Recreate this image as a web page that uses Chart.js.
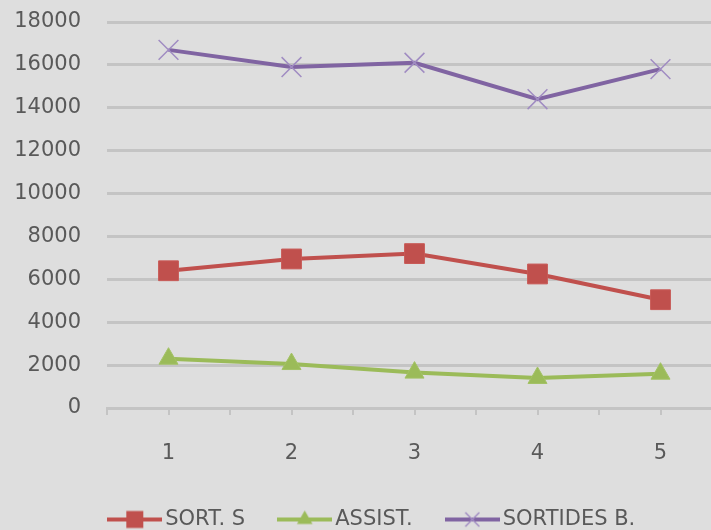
<!DOCTYPE html>
<html><head><meta charset="utf-8">
<script src="https://cdn.jsdelivr.net/npm/chart.js@4/dist/chart.umd.min.js"></script>
<style>html,body{margin:0;padding:0;overflow:hidden;background:#dedede;width:711px;height:530px}canvas{display:block}</style>
</head><body>
<canvas id="c" width="750" height="540"></canvas>
<script>
const categories = [1, 2, 3, 4, 5];
const seriesNames = ['SORT. S', 'ASSIST.', 'SORTIDES B.'];
const sortS = [6400, 6950, 7200, 6250, 5050];
const assist = [2300, 2050, 1650, 1400, 1600];
const sortidesB = [16700, 15900, 16100, 14400, 15800];
const yTicks = [0, 2000, 4000, 6000, 8000, 10000, 12000, 14000, 16000, 18000];

const FONT = {family: 'DejaVu Sans', size: 21};
const TXT = '#595959';
const GRID = '#c4c4c4';

function pts(vals) { return categories.map((c, i) => ({x: c, y: vals[i]})); }

function icon(color, style, mcolor) {
  const c = document.createElement('canvas');
  c.width = 55; c.height = 22;
  const g = c.getContext('2d');
  g.strokeStyle = color; g.lineWidth = 4;
  g.beginPath(); g.moveTo(0, 11); g.lineTo(55, 11); g.stroke();
  const x = 27.5, y = 11;
  if (style === 'rect') {
    g.fillStyle = mcolor; g.fillRect(x - 8.5, y - 8.5, 17, 17);
  } else if (style === 'triangle') {
    const r = 9;
    g.fillStyle = mcolor; g.beginPath();
    g.moveTo(x, y - r); g.lineTo(x + r * 0.866, y + r / 2); g.lineTo(x - r * 0.866, y + r / 2); g.closePath(); g.fill();
  } else {
    g.strokeStyle = mcolor; g.lineWidth = 1.5; const d = 7;
    g.beginPath(); g.moveTo(x - d, y - d); g.lineTo(x + d, y + d); g.moveTo(x + d, y - d); g.lineTo(x - d, y + d); g.stroke();
  }
  return c;
}
const icons = [icon('#c0504d', 'rect', '#c0504d'), icon('#9bbb59', 'triangle', '#9bbb59'), icon('#8064a2', 'cross', '#a08cc2')];

new Chart(document.getElementById('c'), {
  type: 'line',
  data: {
    datasets: [
      {label: seriesNames[0], data: pts(sortS), borderColor: '#c0504d', backgroundColor: '#c0504d', borderWidth: 4,
       pointStyle: 'rect', pointRadius: 14, pointBorderWidth: 1, pointBackgroundColor: '#c0504d', pointBorderColor: '#c85a57'},
      {label: seriesNames[1], data: pts(assist), borderColor: '#9bbb59', backgroundColor: '#9bbb59', borderWidth: 4,
       pointStyle: 'triangle', pointRadius: 11, pointBorderWidth: 1, pointBackgroundColor: '#9bbb59', pointBorderColor: '#a3c265'},
      {label: seriesNames[2], data: pts(sortidesB), borderColor: '#8064a2', backgroundColor: '#8064a2', borderWidth: 4,
       pointStyle: 'crossRot', pointRadius: 14, pointBorderWidth: 1.5, pointBorderColor: '#a08cc2'}
    ]
  },
  options: {
    responsive: false, animation: false, devicePixelRatio: 1,
    layout: {padding: {left: 0, right: 0, top: 22, bottom: 0}},
    plugins: {
      tooltip: {enabled: false},
      legend: {
        position: 'bottom',
        labels: {
          usePointStyle: true, pointStyleWidth: 40, boxHeight: 21, padding: 39.5,
          font: FONT, color: TXT,
          generateLabels: (chart) => chart.data.datasets.map((ds, i) => ({
            text: ds.label, pointStyle: icons[i], fillStyle: ds.borderColor, strokeStyle: ds.borderColor,
            lineWidth: 0, hidden: false, datasetIndex: i, fontColor: TXT
          }))
        }
      }
    },
    scales: {
      x: {
        type: 'linear', min: 0.5, max: 5.5,
        ticks: {stepSize: 0.5, autoSkip: false, maxRotation: 0, font: FONT, color: TXT, padding: 26,
          callback: (v) => Number.isInteger(v) ? String(categories[v - 1]) : ''},
        grid: {drawOnChartArea: false, drawTicks: true, tickLength: 7, color: GRID, lineWidth: 2},
        border: {display: true, color: GRID, width: 3},
        afterFit: (s) => { s.height = 61.5; s.paddingRight = 28; s.paddingLeft = 0; }
      },
      y: {
        min: yTicks[0], max: yTicks[yTicks.length - 1],
        afterBuildTicks: (s) => { s.ticks = yTicks.map(v => ({value: v})); },
        ticks: {font: FONT, color: TXT, padding: 26, callback: (v) => String(v)},
        grid: {color: GRID, lineWidth: 3, drawTicks: false},
        border: {display: false},
        afterFit: (s) => { s.width = 107; s.paddingTop = 0; s.paddingBottom = 0; }
      }
    }
  }
});
</script>
</body></html>
